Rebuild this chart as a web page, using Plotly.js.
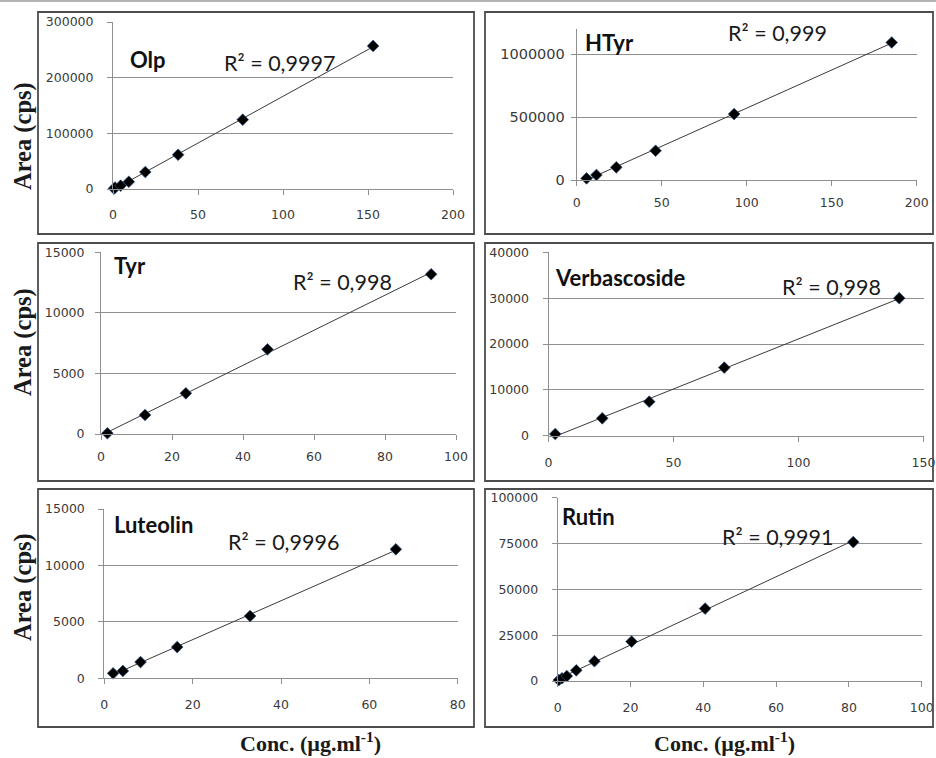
<!DOCTYPE html>
<html>
<head>
<meta charset="utf-8">
<script src="https://cdn.plot.ly/plotly-3.0.1.min.js"></script>
<style>html,body{margin:0;padding:0;background:#fff;}#chart{width:936px;height:758px;}</style>
</head>
<body>
<div id="chart"></div>
<script>
// ---- data ----
const names = ["Olp", "HTyr", "Tyr", "Verbascoside", "Luteolin", "Rutin"];
const r2Labels = ["R² = 0,9997", "R² = 0,999", "R² = 0,998", "R² = 0,998", "R² = 0,9996", "R² = 0,9991"];

const olpX = [0.6, 1.2, 4.5, 9.3, 19, 38.3, 76.3, 153];
const olpY = [800, 2500, 6000, 13000, 30500, 61500, 124500, 257000];

const htyrX = [5.8, 11.6, 23.3, 46.4, 92.6, 185.3];
const htyrY = [13000, 40000, 101000, 233000, 525000, 1095000];

const tyrX = [1.8, 12.4, 23.9, 46.9, 93];
const tyrY = [60, 1570, 3360, 6990, 13190];

const verbX = [2.7, 21.5, 40.3, 70.3, 140.3];
const verbY = [370, 3800, 7420, 14850, 30000];

const lutX = [2.0, 4.2, 8.2, 16.5, 33.0, 66.0];
const lutY = [440, 650, 1440, 2770, 5520, 11430];

const rutX = [0.3, 1.2, 2.5, 5.1, 10.1, 20.3, 40.5, 81.2];
const rutY = [500, 1500, 2700, 5800, 10800, 21500, 39500, 75800];

const xRanges = [[0, 200], [0, 200], [0, 100], [0, 150], [0, 80], [0, 100]];
const xDticks = [50, 50, 20, 50, 20, 20];
const yRanges = [[0, 300000], [0, 1200000], [0, 15000], [0, 40000], [0, 15000], [0, 100000]];
const yDticks = [100000, 500000, 5000, 10000, 5000, 25000];

const yTitle = "Area (cps)";
const xTitle = "Conc. (µg.ml<sup>-1</sup>)";

// ---- layout geometry (pixels) ----
const W = 936, H = 758;
const plotPx = [ // [x0, x1, yBottom, yTop]
  [113, 453, 189, 22],
  [576.7, 916.7, 180, 29.3],
  [101, 456, 434, 252.3],
  [548.5, 923.5, 435.7, 252.3],
  [104.3, 457.7, 678.3, 509],
  [557.7, 921.7, 681, 497.7]
];
const boxPx = [
  [38, 474, 12, 234], [485, 933, 12, 234],
  [38, 474, 243, 481], [485, 933, 243, 481],
  [38, 474, 489, 727], [485, 933, 489, 727]
];
const namePos = [[128, 59], [583, 42], [112, 265], [553, 278], [112, 524], [560, 516]];
const r2Pos = [[222, 63], [726, 33], [291, 282], [780, 287], [226, 542], [720, 537]];
const yStand = [11, 3, 8, 11, 11, 11];
const xStand = [9, 6, 6, 10, 10, 10];
const yTickSize = [12.5, 14.5, 12.5, 12.5, 12.5, 12.5];

const px = v => v / W;
const py = v => 1 - v / H;

const xs = [olpX, htyrX, tyrX, verbX, lutX, rutX];
const ys = [olpY, htyrY, tyrY, verbY, lutY, rutY];

function fit(x, y) {
  const n = x.length;
  let sx = 0, sy = 0, sxx = 0, sxy = 0;
  for (let i = 0; i < n; i++) { sx += x[i]; sy += y[i]; sxx += x[i] * x[i]; sxy += x[i] * y[i]; }
  const b = (n * sxy - sx * sy) / (n * sxx - sx * sx);
  const a = (sy - b * sx) / n;
  return [a, b];
}

const traces = [];
const layout = {
  width: W, height: H,
  margin: {l: 0, r: 0, t: 0, b: 0},
  paper_bgcolor: "#fff", plot_bgcolor: "rgba(0,0,0,0)",
  showlegend: false,
  shapes: [], annotations: []
};

const gridCol = "#8f8f8f";
const tickFont = {family: "DejaVu Sans", size: 12.5, color: "#3a3a3a"};

for (let i = 0; i < 6; i++) {
  const k = i === 0 ? "" : String(i + 1);
  const [a, b] = fit(xs[i], ys[i]);
  const xmin = Math.min(...xs[i]), xmax = Math.max(...xs[i]);
  traces.push({
    x: [xmin, xmax], y: [a + b * xmin, a + b * xmax],
    xaxis: "x" + k, yaxis: "y" + k, mode: "lines", type: "scatter",
    line: {color: "#3a3a3a", width: 1}, hoverinfo: "skip", cliponaxis: false
  });
  traces.push({
    x: xs[i], y: ys[i], name: names[i],
    xaxis: "x" + k, yaxis: "y" + k, mode: "markers", type: "scatter",
    marker: {symbol: "diamond", size: 9, color: "#000", line: {color: "#2d4f80", width: 0.7}},
    cliponaxis: false
  });
  const p = plotPx[i];
  layout["xaxis" + k] = {
    domain: [px(p[0]), px(p[1])], anchor: "y" + k,
    range: xRanges[i], dtick: xDticks[i], tick0: 0,
    showgrid: false, zeroline: false, showline: true, linecolor: gridCol, linewidth: 1,
    ticks: "outside", ticklen: 5, tickcolor: gridCol, tickwidth: 1,
    tickfont: tickFont, ticklabelstandoff: xStand[i], fixedrange: true
  };
  layout["yaxis" + k] = {
    domain: [py(p[2]), py(p[3])], anchor: "x" + k,
    range: yRanges[i], dtick: yDticks[i], tick0: 0, tickformat: "d",
    showgrid: true, gridcolor: gridCol, gridwidth: 1,
    zeroline: false, showline: true, linecolor: gridCol, linewidth: 1,
    ticks: "outside", ticklen: 5, tickcolor: gridCol, tickwidth: 1,
    tickfont: Object.assign({}, tickFont, {size: yTickSize[i]}),
    ticklabelstandoff: yStand[i], fixedrange: true
  };
  const bx = boxPx[i];
  layout.shapes.push({
    type: "rect", xref: "paper", yref: "paper",
    x0: px(bx[0]), x1: px(bx[1]), y0: py(bx[3]), y1: py(bx[2]),
    line: {color: "#4d4d4d", width: 1.8}, fillcolor: "rgba(0,0,0,0)"
  });
  layout.annotations.push({
    xref: "paper", yref: "paper", x: px(namePos[i][0]), y: py(namePos[i][1]),
    xanchor: "left", yanchor: "middle", showarrow: false, text: names[i],
    font: {family: "Lato", size: 22, weight: "bold", color: "#111"}
  });
  layout.annotations.push({
    xref: "paper", yref: "paper", x: px(r2Pos[i][0]), y: py(r2Pos[i][1]),
    xanchor: "left", yanchor: "middle", showarrow: false, text: r2Labels[i],
    font: {family: "Lato", size: 21.5, color: "#1a1a1a"}
  });
}

layout.shapes.push({
  type: "line", xref: "paper", yref: "paper", x0: 0, x1: 1, y0: py(1), y1: py(1),
  line: {color: "#9a9a9a", width: 1.5}
});

[[136, 23], [342, 23], [587, 23]].forEach(([cy, cx]) => {
  layout.annotations.push({
    xref: "paper", yref: "paper", x: px(cx), y: py(cy),
    xanchor: "center", yanchor: "middle", showarrow: false, textangle: -90,
    text: yTitle, font: {family: "Liberation Serif", size: 24.5, weight: "bold", color: "#1a1a1a"}
  });
});
[310, 724].forEach(cx => {
  layout.annotations.push({
    xref: "paper", yref: "paper", x: px(cx), y: py(742),
    xanchor: "center", yanchor: "middle", showarrow: false,
    text: xTitle, font: {family: "Liberation Serif", size: 22, weight: "bold", color: "#1a1a1a"}
  });
});

Plotly.newPlot("chart", traces, layout, {staticPlot: true, displayModeBar: false});
</script>
</body>
</html>
